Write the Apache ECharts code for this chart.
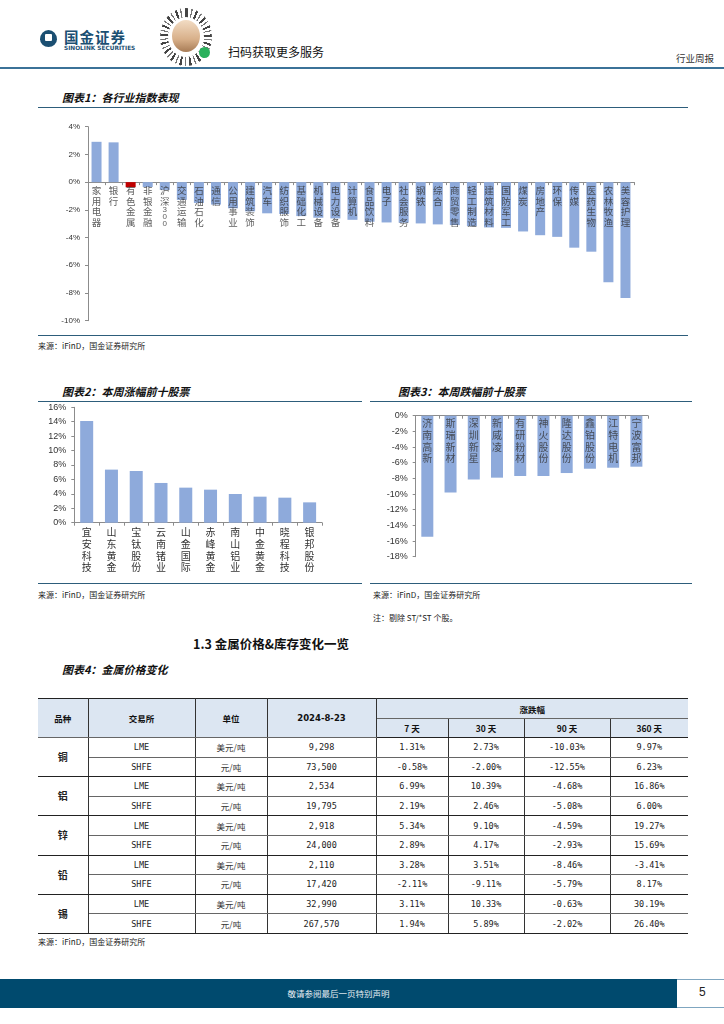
<!DOCTYPE html>
<html><head><meta charset="utf-8">
<script src="https://cdn.jsdelivr.net/npm/echarts@6/dist/echarts.min.js"></script>
<style>
html,body{margin:0;padding:0;background:#fff}
body{width:724px;height:1024px;position:relative;overflow:hidden;font-family:"Noto Sans CJK SC","Noto Sans",sans-serif;color:#222}
.ttl{position:absolute;font-size:11px;font-weight:bold;font-style:italic;color:#111;line-height:14px;white-space:nowrap}
.hl{position:absolute;height:0;border-top:1.5px solid #2d5d7b}
.src{position:absolute;font-size:8px;color:#222;line-height:10px;white-space:nowrap}
.chart{position:absolute}
table{position:absolute;left:38px;top:698px;width:650px;border-collapse:collapse;table-layout:fixed;font-family:"DejaVu Sans Mono","Noto Sans CJK SC",monospace;font-size:8.5px;color:#222}
td,th{text-align:center;padding:0;border-left:1px solid #333;border-right:1px solid #333;border-bottom:1px solid #666;line-height:10px}
th{background:#dce6f2;font-family:"Noto Sans CJK SC",sans-serif;font-weight:bold;font-size:8.5px;color:#111}
tr.h1 th{height:19px;border-top:1.5px solid #222}
tr.h2 th{height:18px;border-bottom:1.5px solid #222}
td{height:18.6px}
tr.g2 td{border-bottom:1.5px solid #222}
td.metal{font-family:"Noto Sans CJK SC",sans-serif;font-weight:bold;font-size:10px;border-bottom:1.5px solid #222}
td.unit{font-family:"Noto Sans CJK SC",sans-serif;color:#333}
th:first-child,td.metal{border-left:none}
th:last-child,td:last-child{border-right:none}
</style></head>
<body>
<!-- header -->
<div style="position:absolute;left:40px;top:30px;width:17px;height:17px;background:#1b4f72;border-radius:50% 50% 50% 50%/55% 55% 45% 45%"></div>
<div style="position:absolute;left:45px;top:34px;width:7px;height:7px;background:#fff;border-radius:1px"></div>
<div style="position:absolute;left:64px;top:28px;font-size:14.5px;font-weight:bold;color:#1b4f72;letter-spacing:1px;line-height:17px">国金证券</div>
<div style="position:absolute;left:64px;top:45px;font-size:5.8px;font-weight:bold;color:#1b4f72;line-height:7px;font-family:'DejaVu Sans',sans-serif">SINOLINK SECURITIES</div>
<div style="position:absolute;left:160px;top:8px;width:52px;height:58px;border-radius:50%;background:repeating-conic-gradient(#444 0 5deg,#fff 5deg 11deg,#777 11deg 14deg,#fff 14deg 21deg)"></div>
<div style="position:absolute;left:168px;top:17px;width:36px;height:40px;border-radius:50%;background:#fff"></div>
<div style="position:absolute;left:172px;top:20px;width:28px;height:32px;border-radius:50%;background:linear-gradient(#f2dcc4,#d8b08a 60%,#a77b55)"></div>
<div style="position:absolute;left:199px;top:47px;width:11px;height:11px;border-radius:50%;background:#2bb15d"></div>
<div style="position:absolute;left:228px;top:44px;font-size:12px;color:#111;line-height:15px">扫码获取更多服务</div>
<div style="position:absolute;right:10px;top:52px;font-size:9.5px;color:#333;line-height:12px">行业周报</div>
<div style="position:absolute;left:0;top:67px;width:724px;height:0;border-top:2px solid #3b7298"></div>

<!-- chart 1 -->
<div class="ttl" style="left:62px;top:90px">图表1：各行业指数表现</div>
<div class="hl" style="left:38px;top:107px;width:650px"></div>
<div id="c1" class="chart" style="left:30px;top:110px;width:660px;height:224px"></div>
<div class="hl" style="left:38px;top:335px;width:650px"></div>
<div class="src" style="left:38px;top:341px">来源：iFinD，国金证券研究所</div>

<!-- chart 2 -->
<div class="ttl" style="left:62px;top:384px">图表2：本周涨幅前十股票</div>
<div class="hl" style="left:38px;top:401px;width:324px"></div>
<div id="c2" class="chart" style="left:30px;top:402px;width:340px;height:180px"></div>
<div class="hl" style="left:38px;top:583px;width:324px"></div>
<div class="src" style="left:38px;top:590px">来源：iFinD，国金证券研究所</div>

<!-- chart 3 -->
<div class="ttl" style="left:398px;top:384px">图表3：本周跌幅前十股票</div>
<div class="hl" style="left:370px;top:401px;width:322px"></div>
<div id="c3" class="chart" style="left:370px;top:402px;width:330px;height:180px"></div>
<div class="hl" style="left:370px;top:583px;width:322px"></div>
<div class="src" style="left:373px;top:590px">来源：iFinD，国金证券研究所</div>
<div class="src" style="left:373px;top:613px">注：剔除 ST/*ST 个股。</div>

<!-- section -->
<div style="position:absolute;left:193px;top:636px;font-size:12.5px;font-weight:bold;color:#111;line-height:16px;white-space:nowrap">1.3 金属价格&amp;库存变化一览</div>
<div class="ttl" style="left:62px;top:662px">图表4：金属价格变化</div>

<table id="tbl">
<colgroup><col style="width:50px"><col style="width:107px"><col style="width:72px"><col style="width:109px"><col style="width:72px"><col style="width:76px"><col style="width:86px"><col style="width:78px"></colgroup>
<thead>
<tr class="h1"><th rowspan="2">品种</th><th rowspan="2">交易所</th><th rowspan="2">单位</th><th rowspan="2" style="font-family:'DejaVu Sans',sans-serif">2024-8-23</th><th colspan="4">涨跌幅</th></tr>
<tr class="h2"><th>7 天</th><th>30 天</th><th>90 天</th><th>360 天</th></tr>
</thead>
<tbody id="tb"></tbody>
</table>
<div class="src" style="left:38px;top:937px">来源：iFinD，国金证券研究所</div>

<!-- footer -->
<div style="position:absolute;left:0;top:979px;width:677px;height:29px;background:#004a6e"></div>
<div style="position:absolute;left:677px;top:979px;width:47px;height:0;border-top:1px solid #7fa6c0"></div>
<div style="position:absolute;left:677px;top:1007px;width:47px;height:0;border-top:1px solid #7fa6c0"></div>
<div style="position:absolute;left:0;top:987px;width:677px;text-align:center;font-size:8.5px;color:#e8eef3;line-height:12px">敬请参阅最后一页特别声明</div>
<div style="position:absolute;left:699px;top:985px;font-size:12px;color:#222;line-height:15px;font-family:'Liberation Sans',sans-serif">5</div>

<script>
// ---------- data ----------
const industryNames = ['家用电器','银行','有色金属','非银金融','沪深300','交通运输','石油石化','通信','公用事业','建筑装饰','汽车','纺织服饰','基础化工','机械设备','电力设备','计算机','食品饮料','电子','社会服务','钢铁','综合','商贸零售','轻工制造','建筑材料','国防军工','煤炭','房地产','环保','传媒','医药生物','农林牧渔','美容护理'];
const industryValues = [2.91,2.87,-0.37,-0.35,-0.56,-1.28,-1.50,-1.62,-1.89,-2.11,-2.25,-2.30,-2.45,-2.57,-2.62,-2.72,-2.86,-2.91,-2.93,-2.98,-3.05,-3.10,-3.18,-3.27,-3.30,-3.56,-3.83,-3.95,-4.73,-5.02,-7.22,-8.36];
const industryHighlight = '有色金属';
const industryTicks = [-10,-8,-6,-4,-2,0,2,4];

const gainNames = ['宜安科技','山东黄金','宝钛股份','云南锗业','山金国际','赤峰黄金','南山铝业','中金黄金','晓程科技','银邦股份'];
const gainValues = [14.1,7.36,7.17,5.51,4.86,4.58,3.98,3.61,3.47,2.82];
const gainTicks = [0,2,4,6,8,10,12,14,16];

const lossNames = ['济南高新','斯瑞新材','深圳新星','新威凌','有研粉材','神火股份','隆达股份','鑫铂股份','江特电机','宁波富邦'];
const lossValues = [-15.45,-9.79,-8.13,-7.91,-7.70,-7.70,-7.32,-6.77,-6.64,-6.51];
const lossTicks = [-18,-16,-14,-12,-10,-8,-6,-4,-2,0];

const metals = ['铜','铝','锌','铅','锡'];
const exchanges = ['LME','SHFE'];
const units = ['美元/吨','元/吨'];
const prices = [['9,298','73,500'],['2,534','19,795'],['2,918','24,000'],['2,110','17,420'],['32,990','267,570']];
const chg7 = [['1.31%','-0.58%'],['6.99%','2.19%'],['5.34%','2.89%'],['3.28%','-2.11%'],['3.11%','1.94%']];
const chg30 = [['2.73%','-2.00%'],['10.39%','2.46%'],['9.10%','4.17%'],['3.51%','-9.11%'],['10.33%','5.89%']];
const chg90 = [['-10.03%','-12.55%'],['-4.68%','-5.08%'],['-4.59%','-2.93%'],['-8.46%','-5.79%'],['-0.63%','-2.02%']];
const chg360 = [['9.97%','6.23%'],['16.86%','6.00%'],['19.27%','15.69%'],['-3.41%','8.17%'],['30.19%','26.40%']];

// ---------- table ----------
const tb = document.getElementById('tb');
let html = '';
metals.forEach((m,i)=>{
  for(let j=0;j<2;j++){
    html += '<tr class="'+(j===1?'g2':'')+'">';
    if(j===0) html += '<td class="metal" rowspan="2">'+m+'</td>';
    html += '<td>'+exchanges[j]+'</td><td class="unit">'+units[j]+'</td><td>'+prices[i][j]+'</td><td>'+chg7[i][j]+'</td><td>'+chg30[i][j]+'</td><td>'+chg90[i][j]+'</td><td>'+chg360[i][j]+'</td></tr>';
  }
});
tb.innerHTML = html;

// ---------- charts ----------
const CJK = '"Noto Sans CJK SC", sans-serif';
const NUM = '"Liberation Sans", Arial, sans-serif';
function vert(name){
  if(/\d/.test(name)){
    const m = name.match(/^(\D*)(\d+)$/);
    return m[1].split('').join('\n') + '\n' + m[2].split('').map(d=>'{d|'+d+'}').join('\n');
  }
  return name.split('').join('\n');
}
function makeChart(id, cfg){
  const ch = echarts.init(document.getElementById(id), null, {renderer:'canvas'});
  const ticks = cfg.ticks;
  const labelStyle = {fontFamily:CJK, fontSize:cfg.lblSize, lineHeight:cfg.lblLH, color:'#333',
        textBorderWidth:0, textBorderColor:'transparent', textShadowBlur:0, textShadowColor:'transparent',
        rich:{d:{fontFamily:NUM, fontSize:8, lineHeight:7, color:'#333', textBorderWidth:0, textBorderColor:'transparent'}}};
  const series = [{
      type:'bar', barWidth:cfg.barWidth, z:2,
      data: cfg.values.map((v,i)=>({value:v, itemStyle:{color: cfg.names[i]===cfg.highlight ? '#c00000' : '#8eaadb'}}))
    }];
  if(cfg.zeroLabels){
    series.push({
      type:'scatter', z:5, symbolSize:0, silent:true,
      data: cfg.names.map(n=>({name:n, value:0})),
      label:Object.assign({show:true, position:'bottom', distance:cfg.lblMargin, align:'center', verticalAlign:'top',
        formatter:p=>vert(p.name)}, labelStyle),
      labelLayout:{hideOverlap:false}
    });
  }
  ch.setOption({
    animation:false,
    grid: cfg.grid,
    xAxis:{
      type:'category', data:cfg.names,
      axisLine:{onZero:true, lineStyle:{color:'#8c8c8c', width:1}},
      axisTick:{show:true, length:3, lineStyle:{color:'#8c8c8c'}},
      axisLabel:Object.assign({show:!cfg.zeroLabels, interval:0, formatter:vert, margin:cfg.lblMargin, verticalAlign:'top'}, labelStyle)
    },
    yAxis:{
      type:'value', min:ticks[0], max:ticks[ticks.length-1], interval:ticks[1]-ticks[0],
      axisLine:{show:true, lineStyle:{color:'#8c8c8c', width:1}},
      axisTick:{show:true, length:3, lineStyle:{color:'#8c8c8c'}},
      splitLine:{show:false},
      axisLabel:{formatter:'{value}%', fontFamily:NUM, fontSize:cfg.ySize, color:'#333', margin:cfg.yMargin}
    },
    series: series
  });
}
makeChart('c1',{names:industryNames, values:industryValues, ticks:industryTicks, highlight:industryHighlight, zeroLabels:true,
  grid:{left:58, top:16.7, width:546, height:194}, barWidth:10, lblSize:9.5, lblLH:10.6, lblMargin:3, ySize:8, yMargin:8});
makeChart('c2',{names:gainNames, values:gainValues, ticks:gainTicks, zeroLabels:false,
  grid:{left:44.3, top:5.3, width:247.7, height:115.4}, barWidth:13, lblSize:10, lblLH:11.7, lblMargin:4, ySize:9, yMargin:8});
makeChart('c3',{names:lossNames, values:lossValues, ticks:lossTicks, zeroLabels:true,
  grid:{left:45.7, top:13.7, width:232.3, height:141}, barWidth:12, lblSize:10, lblLH:11.7, lblMargin:2, ySize:9, yMargin:8});
</script>
</body></html>
